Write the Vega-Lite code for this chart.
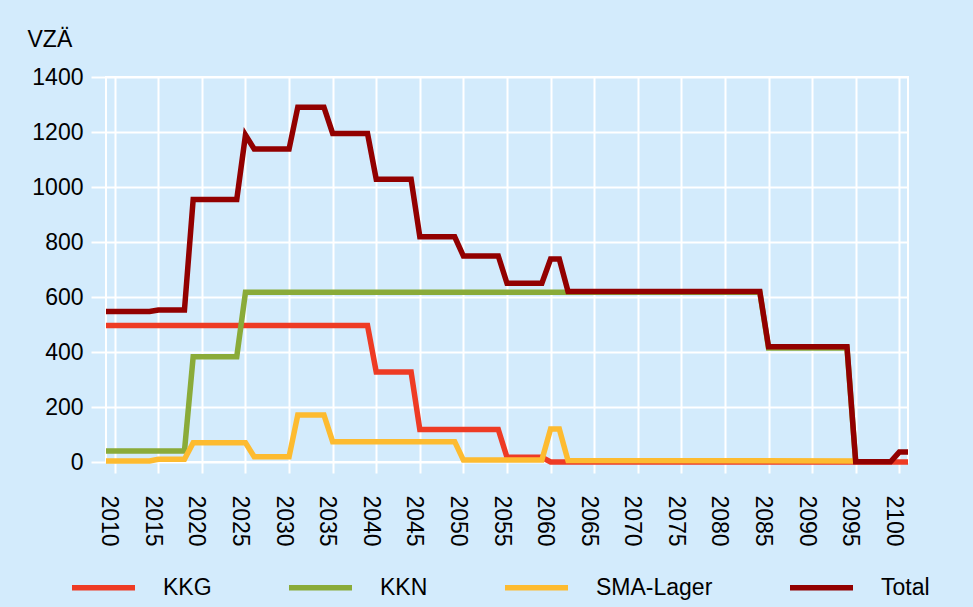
{
  "$schema": "https://vega.github.io/schema/vega-lite/v6.json",
  "width": 802,
  "height": 385,
  "autosize": {"type": "none"},
  "padding": {"left": 106, "top": 77, "right": 65, "bottom": 145},
  "background": "#d3ebfc",
  "config": {
    "view": {"stroke": "white", "strokeWidth": 2},
    "font": "Liberation Sans"
  },
  "data": {
    "values": [
      {"year": 2009, "series": "KKG", "v": 496},
      {"year": 2039, "series": "KKG", "v": 496},
      {"year": 2040, "series": "KKG", "v": 327},
      {"year": 2044, "series": "KKG", "v": 327},
      {"year": 2045, "series": "KKG", "v": 118},
      {"year": 2054, "series": "KKG", "v": 118},
      {"year": 2055, "series": "KKG", "v": 17},
      {"year": 2059, "series": "KKG", "v": 17},
      {"year": 2060, "series": "KKG", "v": 0},
      {"year": 2101, "series": "KKG", "v": 0},

      {"year": 2009, "series": "KKN", "v": 40},
      {"year": 2018, "series": "KKN", "v": 40},
      {"year": 2019, "series": "KKN", "v": 383},
      {"year": 2024, "series": "KKN", "v": 383},
      {"year": 2025, "series": "KKN", "v": 617},
      {"year": 2084, "series": "KKN", "v": 617},
      {"year": 2085, "series": "KKN", "v": 415},
      {"year": 2094, "series": "KKN", "v": 415},
      {"year": 2095, "series": "KKN", "v": 0},

      {"year": 2009, "series": "SMA-Lager", "v": 4},
      {"year": 2014, "series": "SMA-Lager", "v": 4},
      {"year": 2015, "series": "SMA-Lager", "v": 10},
      {"year": 2018, "series": "SMA-Lager", "v": 10},
      {"year": 2019, "series": "SMA-Lager", "v": 70},
      {"year": 2025, "series": "SMA-Lager", "v": 70},
      {"year": 2026, "series": "SMA-Lager", "v": 19},
      {"year": 2030, "series": "SMA-Lager", "v": 19},
      {"year": 2031, "series": "SMA-Lager", "v": 171},
      {"year": 2034, "series": "SMA-Lager", "v": 171},
      {"year": 2035, "series": "SMA-Lager", "v": 74},
      {"year": 2049, "series": "SMA-Lager", "v": 74},
      {"year": 2050, "series": "SMA-Lager", "v": 7},
      {"year": 2059, "series": "SMA-Lager", "v": 7},
      {"year": 2060, "series": "SMA-Lager", "v": 120},
      {"year": 2061, "series": "SMA-Lager", "v": 120},
      {"year": 2062, "series": "SMA-Lager", "v": 5},
      {"year": 2095, "series": "SMA-Lager", "v": 4},

      {"year": 2009, "series": "Total", "v": 547},
      {"year": 2014, "series": "Total", "v": 547},
      {"year": 2015, "series": "Total", "v": 553},
      {"year": 2018, "series": "Total", "v": 553},
      {"year": 2019, "series": "Total", "v": 955},
      {"year": 2024, "series": "Total", "v": 955},
      {"year": 2025, "series": "Total", "v": 1189},
      {"year": 2026, "series": "Total", "v": 1138},
      {"year": 2030, "series": "Total", "v": 1138},
      {"year": 2031, "series": "Total", "v": 1290},
      {"year": 2034, "series": "Total", "v": 1290},
      {"year": 2035, "series": "Total", "v": 1195},
      {"year": 2039, "series": "Total", "v": 1195},
      {"year": 2040, "series": "Total", "v": 1028},
      {"year": 2044, "series": "Total", "v": 1028},
      {"year": 2045, "series": "Total", "v": 819},
      {"year": 2049, "series": "Total", "v": 819},
      {"year": 2050, "series": "Total", "v": 749},
      {"year": 2054, "series": "Total", "v": 749},
      {"year": 2055, "series": "Total", "v": 650},
      {"year": 2059, "series": "Total", "v": 650},
      {"year": 2060, "series": "Total", "v": 738},
      {"year": 2061, "series": "Total", "v": 738},
      {"year": 2062, "series": "Total", "v": 620},
      {"year": 2084, "series": "Total", "v": 620},
      {"year": 2085, "series": "Total", "v": 419},
      {"year": 2094, "series": "Total", "v": 419},
      {"year": 2095, "series": "Total", "v": 1},
      {"year": 2099, "series": "Total", "v": 1},
      {"year": 2100, "series": "Total", "v": 36},
      {"year": 2101, "series": "Total", "v": 36}
    ]
  },
  "mark": {"type": "line", "strokeWidth": 5.5, "strokeJoin": "miter", "strokeCap": "butt"},
  "encoding": {
    "x": {
      "field": "year",
      "type": "quantitative",
      "scale": {"domain": [2009, 2101], "nice": false, "zero": false},
      "axis": {
        "values": [2010, 2015, 2020, 2025, 2030, 2035, 2040, 2045, 2050, 2055, 2060, 2065, 2070, 2075, 2080, 2085, 2090, 2095, 2100],
        "format": "d",
        "title": null,
        "labelAngle": 90,
        "labelFontSize": 23,
        "labelColor": "black",
        "labelPadding": 22,
        "labelOffset": -6,
        "labelFlush": false,
        "labelOverlap": false,
        "grid": true,
        "gridColor": "white",
        "gridWidth": 2,
        "gridOpacity": 1,
        "tickColor": "white",
        "tickWidth": 2,
        "tickSize": 11,
        "domain": false
      }
    },
    "y": {
      "field": "v",
      "type": "quantitative",
      "scale": {"domain": [0, 1400], "nice": false},
      "axis": {
        "values": [0, 200, 400, 600, 800, 1000, 1200, 1400],
        "format": "d",
        "title": "VZÄ",
        "titleAngle": 0,
        "titleX": -79,
        "titleY": -31,
        "titleAlign": "left",
        "titleBaseline": "alphabetic",
        "titleFontSize": 23,
        "titleFontWeight": "normal",
        "titleColor": "black",
        "labelFontSize": 23,
        "labelColor": "black",
        "labelPadding": 8,
        "labelFlush": false,
        "grid": true,
        "gridColor": "white",
        "gridWidth": 2,
        "gridOpacity": 1,
        "tickColor": "white",
        "tickWidth": 2,
        "tickSize": 15,
        "domain": false
      }
    },
    "color": {
      "field": "series",
      "type": "nominal",
      "scale": {
        "domain": ["KKG", "KKN", "SMA-Lager", "Total"],
        "range": ["#ee3b24", "#8aab39", "#fdbb30", "#920000"]
      },
      "legend": {
        "title": null,
        "orient": "none",
        "direction": "horizontal",
        "legendX": -37,
        "legendY": 476,
        "symbolType": "stroke",
        "symbolSize": 3969,
        "symbolStrokeWidth": 5.5,
        "labelFontSize": 23,
        "labelColor": "black",
        "labelOffset": 25,
        "columnPadding": 66
      }
    }
  }
}
